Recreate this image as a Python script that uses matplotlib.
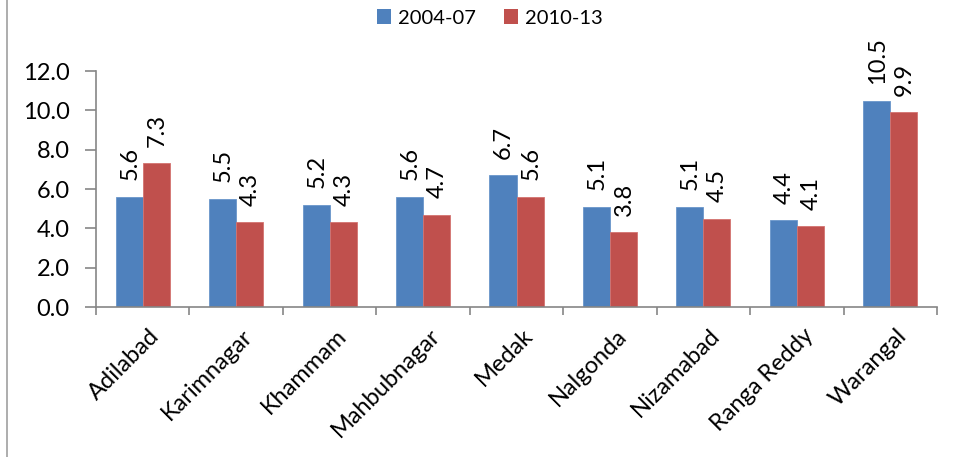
import matplotlib.pyplot as plt
import numpy as np
from matplotlib.lines import Line2D
from matplotlib.patches import Patch
from matplotlib.transforms import ScaledTranslation

districts = ["Adilabad", "Karimnagar", "Khammam", "Mahbubnagar", "Medak",
             "Nalgonda", "Nizamabad", "Ranga Reddy", "Warangal"]
period_a = [5.6, 5.5, 5.2, 5.6, 6.7, 5.1, 5.1, 4.4, 10.5]
period_b = [7.3, 4.3, 4.3, 4.7, 5.6, 3.8, 4.5, 4.1, 9.9]
series_names = ["2004-07", "2010-13"]

BLUE = "#4F81BD"
RED = "#C0504D"
AXIS = "#868686"

plt.rcParams["font.family"] = ["Lato", "DejaVu Sans"]

fig = plt.figure(figsize=(9.55, 4.57), dpi=100)
ax = fig.add_axes([96 / 955, 1 - 307 / 457, (937 - 96) / 955, (307 - 71) / 457])

x = np.arange(len(districts))
w = 0.29
bars_a = ax.bar(x - w / 2, period_a, w, color=BLUE, edgecolor="#6A96CB", linewidth=0.6)
bars_b = ax.bar(x + w / 2, period_b, w, color=RED, edgecolor="#D47370", linewidth=0.6)

for bars, vals in ((bars_a, period_a), (bars_b, period_b)):
    for b, v in zip(bars, vals):
        ax.annotate(f"{v:.1f}", (b.get_x() + b.get_width() / 2, v),
                    xytext=(0.5, 12), textcoords="offset points",
                    rotation=90, ha="center", va="bottom", fontsize=17,
                    annotation_clip=False)

ax.set_xlim(-0.5, len(districts) - 0.5)
ax.set_ylim(0, 12)
ax.set_yticks(np.arange(0, 12.1, 2))
ax.set_yticklabels([f"{t:.1f}" for t in np.arange(0, 12.1, 2)], fontsize=17)

ax.set_xticks(x)
ax.set_xticklabels(districts, rotation=45, ha="right", va="top",
                   rotation_mode="anchor", fontsize=17)
ax.tick_params(axis="x", length=0, pad=13)
shift = ScaledTranslation(6 / 100, 0, fig.dpi_scale_trans)
for lbl in ax.get_xticklabels():
    lbl.set_transform(lbl.get_transform() + shift)
ax.set_xticks(np.arange(-0.5, len(districts)), minor=True)
ax.tick_params(axis="x", which="minor", length=6, color=AXIS, width=1.2)
ax.tick_params(axis="y", length=8, color=AXIS, width=1.2, pad=11)

for s in ("top", "right"):
    ax.spines[s].set_visible(False)
for s in ("left", "bottom"):
    ax.spines[s].set_color(AXIS)
    ax.spines[s].set_linewidth(1.2)

handles = [Patch(facecolor=BLUE), Patch(facecolor=RED)]
fig.legend(handles, series_names, loc="center", bbox_to_anchor=(490 / 955, 1 - 18 / 457),
           ncol=2, frameon=False, fontsize=14.5, handlelength=0.7, handleheight=0.7,
           handletextpad=0.35, columnspacing=1.4)

fig.add_artist(Line2D([7 / 955, 7 / 955], [0, 1], color="#A0A0A0", linewidth=1.2,
                      transform=fig.transFigure))

fig.savefig("out.png", dpi=100)
